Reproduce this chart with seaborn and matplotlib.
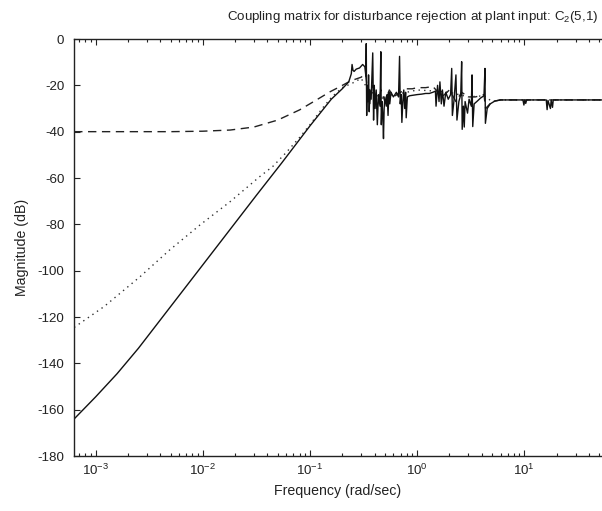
import matplotlib
matplotlib.use("Agg")
import matplotlib.pyplot as plt
import seaborn as sns
import pandas as pd
from matplotlib.ticker import LogLocator, NullFormatter

# ---- data (frequency in rad/sec, magnitude in dB) ----
solid_freq = [6.31e-4, 1e-3, 1.585e-3, 2.51e-3, 5.01e-3, 0.01, 0.0316, 0.0545, 0.1, 0.158,
              0.20, 0.23, 0.243, 0.247, 0.252, 0.258, 0.27, 0.29, 0.31, 0.325,
              0.332, 0.335, 0.338, 0.342, 0.348, 0.352, 0.357, 0.362, 0.372, 0.385,
              0.392, 0.398, 0.405, 0.415, 0.425, 0.435, 0.45, 0.458, 0.463, 0.47,
              0.478, 0.485, 0.492, 0.50, 0.515, 0.525, 0.535, 0.545, 0.555, 0.57,
              0.60, 0.64, 0.67, 0.685, 0.695, 0.71, 0.72, 0.735, 0.75, 0.765,
              0.78, 0.79, 0.81, 0.85, 1.0, 1.1, 1.2, 1.3, 1.4, 1.48,
              1.5, 1.55, 1.6, 1.63, 1.68, 1.72, 1.78, 1.85, 1.95, 2.05,
              2.1, 2.13, 2.2, 2.3, 2.35, 2.45, 2.55, 2.6, 2.63, 2.7,
              2.75, 2.8, 2.95, 3.05, 3.2, 3.25, 3.3, 3.4, 3.6, 3.9,
              4.2, 4.29, 4.33, 4.5, 4.8, 5.3, 6.0, 9.7, 9.9, 10.1,
              10.3, 10.5, 16.0, 16.3, 16.6, 17.5, 17.8, 18.3, 18.6, 53.0]
solid_mag = [-164, -154.5, -144.5, -133.5, -115.5, -97.5, -67.5, -53.5, -37.5, -26,
             -21.5, -18.5, -15, -11, -13.5, -14, -13, -12.5, -11, -12,
             -16, -2, -33, -20, -27, -15.5, -31.4, -22, -26, -6,
             -35, -20, -30, -22, -37, -24, -29, -5.5, -37, -27,
             -33, -43, -30, -25, -29, -24, -33, -23, -28, -23,
             -25, -23, -25, -7.5, -28, -24, -36, -27, -22, -30,
             -23, -34, -25, -24.5, -24, -23.8, -23.5, -23.5, -23, -22.5,
             -29, -20, -27, -18.5, -28, -22, -29, -23, -26, -24,
             -12.7, -33, -27, -15.5, -35, -27, -24, -9.8, -39, -29,
             -38, -27, -32, -26, -29, -15.5, -37.8, -28, -27, -25.5,
             -24.5, -12.7, -36.4, -30, -28, -26.8, -26.3, -26.3, -28.5, -26.3,
             -27.8, -26.3, -26.3, -30.5, -26.5, -30, -26.3, -29.5, -26.3, -26.3]

dashed_freq = [6.31e-4, 0.005, 0.01, 0.018, 0.03, 0.05, 0.08, 0.115, 0.155, 0.19,
               0.23, 0.26, 0.3, 0.33, 0.34, 0.36, 0.38, 0.42, 0.46, 0.5,
               0.55, 0.6, 0.7, 0.8, 0.9, 1.0, 1.2, 1.4, 1.5, 1.7,
               2.0, 2.3, 2.6, 3.0, 3.5, 4.2, 4.35, 5.0, 6.0, 53.0]
dashed_mag = [-40, -40, -39.8, -39.3, -38, -35, -30.6, -26.3, -22.7, -20.6,
              -18.5, -17.5, -16.5, -15, -20, -28, -20, -30, -22, -27,
              -22, -25, -23, -21.5, -21.5, -21, -21, -20.5, -22, -25,
              -22, -27, -23, -25, -25, -24, -30, -27, -26.3, -26.3]

dotted_freq = [6.31e-4, 1.2e-3, 2.6e-3, 4.9e-3, 9.4e-3, 0.018, 0.034, 0.045, 0.06, 0.08,
               0.1, 0.13, 0.16, 0.2, 0.25, 0.3, 0.34, 0.4, 0.5, 0.6,
               0.8, 1.0, 1.5, 2.0, 3.0, 4.2, 5.0, 6.0, 53.0]
dotted_mag = [-124.5, -115.5, -102.6, -91.1, -80.3, -70.2, -59.4, -55, -49, -42.5,
              -37, -30, -25, -21, -19, -17, -21, -24, -26, -24,
              -23, -22, -22.5, -23, -25, -24.5, -27, -26.3, -26.3]

xtick_vals = [1e-3, 1e-2, 1e-1, 1e0, 1e1]
ytick_vals = list(range(-180, 1, 20))

title_text = "Coupling matrix for disturbance rejection at plant input: C$_2$(5,1)"
xlabel_text = "Frequency (rad/sec)"
ylabel_text = "Magnitude (dB)"

# ---- styling ----
sns.set_style("ticks")
plt.rcParams["font.family"] = ["Liberation Sans", "DejaVu Sans"]
plt.rcParams["mathtext.default"] = "regular"
plt.rcParams["axes.unicode_minus"] = False

FS = 9.6
INK = "#222222"

fig = plt.figure(figsize=(6.02, 5.11), dpi=100)
ax = fig.add_axes([74 / 602, 55 / 511, 528 / 602, 417 / 511])

df_s = pd.DataFrame({"f": solid_freq, "m": solid_mag})
df_d = pd.DataFrame({"f": dashed_freq, "m": dashed_mag})
df_o = pd.DataFrame({"f": dotted_freq, "m": dotted_mag})

sns.lineplot(data=df_d, x="f", y="m", ax=ax, color=INK, lw=1.0,
             estimator=None, sort=False, linestyle=(0, (6, 4)))
sns.lineplot(data=df_o, x="f", y="m", ax=ax, color="#333333", lw=1.0,
             estimator=None, sort=False, linestyle=(0, (1, 3)))
sns.lineplot(data=df_s, x="f", y="m", ax=ax, color="#111111", lw=1.0,
             estimator=None, sort=False)

ax.set_xscale("log")
ax.set_xlim(6.29e-4, 53)
ax.set_ylim(-180, 0)
ax.set_xticks(xtick_vals)
ax.xaxis.set_minor_locator(LogLocator(base=10, subs=range(2, 10), numticks=20))
ax.xaxis.set_minor_formatter(NullFormatter())
ax.set_yticks(ytick_vals)

for s in ["left", "bottom", "top"]:
    ax.spines[s].set_linewidth(1.0)
    ax.spines[s].set_color(INK)
ax.spines["right"].set_visible(False)

ax.tick_params(which="both", direction="in", top=True, right=False,
               labelsize=FS, colors=INK, width=0.8)
ax.tick_params(which="major", length=4)
ax.tick_params(which="minor", length=2.5)
ax.tick_params(axis="x", which="major", pad=5)
ax.tick_params(axis="y", which="major", pad=7)

ax.set_xlabel(xlabel_text, fontsize=10.2, color=INK, labelpad=4)
ax.set_ylabel(ylabel_text, fontsize=10.2, color=INK, labelpad=6)
ax.set_title(title_text, fontsize=FS, color=INK, pad=14, x=(413 - 74) / 528)

fig.savefig("out.png", dpi=100)
